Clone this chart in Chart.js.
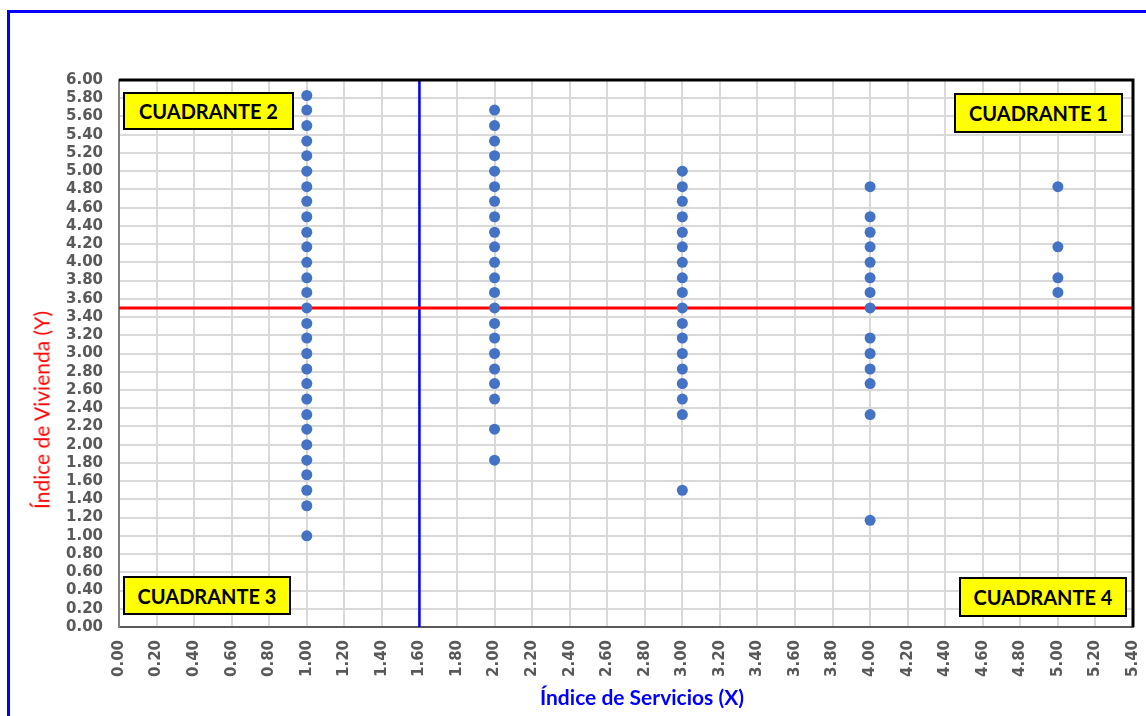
<!DOCTYPE html>
<html lang="es">
<head>
<meta charset="UTF-8">
<title>Cuadrantes</title>
<style>
    body {
        margin: 0;
        overflow: hidden;
        background: #fff;
        font-family: Lato, sans-serif;
    }
    #frame {
        position: absolute;
        left: 7px;
        top: 10px;
        width: 1300px;
        height: 900px;
        border: 3px solid #0000ff;
        box-sizing: border-box;
    }
    #chart {
        position: absolute;
        left: 0;
        top: 0;
    }
    .quad {
        position: absolute;
        background: #ffff00;
        border: 2px solid #000;
        box-sizing: border-box;
        font: bold 20px Lato, sans-serif;
        color: #000;
        display: flex;
        align-items: center;
        justify-content: center;
    }
    .axis-title {
        position: absolute;
        white-space: nowrap;
        font-size: 21px;
        line-height: 1;
    }
    #titleX {
        left: 642px;
        top: 696px;
        transform: translate(-50%, -50%);
        color: #0000ff;
        font-weight: bold;
    }
    #titleY {
        left: 41px;
        top: 410px;
        transform: translate(-50%, -50%) rotate(-90deg);
        color: #ff0000;
    }
</style>
</head>
<body>
<div id="frame"></div>
<canvas id="chart" width="1146" height="716"></canvas>
<div class="quad" style="left:123px; top:92px; width:171px; height:38px;">CUADRANTE 2</div>
<div class="quad" style="left:954px; top:93px; width:169px; height:40px;">CUADRANTE 1</div>
<div class="quad" style="left:123px; top:576px; width:168px; height:39px;">CUADRANTE 3</div>
<div class="quad" style="left:959px; top:577px; width:168px; height:40px;">CUADRANTE 4</div>
<div class="axis-title" id="titleX">Índice de Servicios (X)</div>
<div class="axis-title" id="titleY">Índice de Vivienda (Y)</div>

<script src="https://cdn.jsdelivr.net/npm/chart.js"></script>
<script>
    // índice de servicios (columnas) y valores de vivienda en cada una
    const servicios = [1, 2, 3, 4, 5];
    const vivienda1 = [1.00, 1.33, 1.50, 1.67, 1.83, 2.00, 2.17, 2.33, 2.50, 2.67, 2.83, 3.00, 3.17, 3.33, 3.50,
                       3.67, 3.83, 4.00, 4.17, 4.33, 4.50, 4.67, 4.83, 5.00, 5.17, 5.33, 5.50, 5.67, 5.83];
    const vivienda2 = [1.83, 2.17, 2.50, 2.67, 2.83, 3.00, 3.17, 3.33, 3.50, 3.67, 3.83, 4.00, 4.17, 4.33, 4.50,
                       4.67, 4.83, 5.00, 5.17, 5.33, 5.50, 5.67];
    const vivienda3 = [1.50, 2.33, 2.50, 2.67, 2.83, 3.00, 3.17, 3.33, 3.50, 3.67, 3.83, 4.00, 4.17, 4.33, 4.50,
                       4.67, 4.83, 5.00];
    const vivienda4 = [1.17, 2.33, 2.67, 2.83, 3.00, 3.17, 3.50, 3.67, 3.83, 4.00, 4.17, 4.33, 4.50, 4.83];
    const vivienda5 = [3.67, 3.83, 4.17, 4.83];

    // líneas de corte de los cuadrantes
    const corteX = 1.6;
    const corteY = 3.5;

    const ejeXMin = 0, ejeXMax = 5.4;
    const ejeYMin = 0, ejeYMax = 6;
    const paso = 0.2;

    const columnas = [vivienda1, vivienda2, vivienda3, vivienda4, vivienda5];
    const puntos = [];
    columnas.forEach(function(col, i) {
        col.forEach(function(v) {
            puntos.push({ x: servicios[i], y: v });
        });
    });

    // marco superior y derecho del área de trazado
    const marcoPlugin = {
        id: 'marco',
        afterDraw(chart) {
            const a = chart.chartArea;
            const ctx = chart.ctx;
            ctx.save();
            ctx.strokeStyle = '#000';
            ctx.lineWidth = 3;
            ctx.beginPath();
            ctx.moveTo(a.left, a.top);
            ctx.lineTo(a.right, a.top);
            ctx.lineTo(a.right, a.bottom);
            ctx.stroke();
            ctx.restore();
        }
    };

    const tickFont = { family: 'DejaVu Sans', size: 15, weight: 'bold' };

    new Chart(document.getElementById('chart').getContext('2d'), {
        type: 'scatter',
        data: {
            datasets: [
                {
                    label: 'Vivienda',
                    data: puntos,
                    backgroundColor: '#4472C4',
                    borderWidth: 0,
                    pointRadius: 5.5,
                    order: 1
                },
                {
                    label: 'Corte Y',
                    type: 'line',
                    data: [{ x: ejeXMin, y: corteY }, { x: ejeXMax, y: corteY }],
                    borderColor: '#ff0000',
                    borderWidth: 3,
                    pointRadius: 0,
                    order: 2
                },
                {
                    label: 'Corte X',
                    type: 'line',
                    data: [{ x: corteX, y: ejeYMin }, { x: corteX, y: ejeYMax }],
                    borderColor: '#0000ff',
                    borderWidth: 2.5,
                    pointRadius: 0,
                    order: 2
                }
            ]
        },
        options: {
            responsive: false,
            animation: false,
            layout: { padding: { top: 80, right: 13, left: 10, bottom: 0 } },
            plugins: {
                legend: { display: false },
                tooltip: { enabled: false }
            },
            scales: {
                x: {
                    type: 'linear',
                    min: ejeXMin,
                    max: ejeXMax,
                    afterFit(scale) {
                        scale.height = 89;
                        scale.paddingLeft = 0;
                        scale.paddingRight = 0;
                    },
                    ticks: {
                        stepSize: paso,
                        autoSkip: false,
                        minRotation: 90,
                        maxRotation: 90,
                        padding: 13,
                        color: '#595959',
                        font: tickFont,
                        callback: v => Number(v).toFixed(2)
                    },
                    grid: { color: '#d9d9d9', lineWidth: 2, drawTicks: false },
                    border: { color: '#595959', width: 2 }
                },
                y: {
                    min: ejeYMin,
                    max: ejeYMax,
                    afterFit(scale) {
                        scale.width = 109;
                        scale.paddingTop = 0;
                        scale.paddingBottom = 0;
                    },
                    ticks: {
                        stepSize: paso,
                        autoSkip: false,
                        padding: 16,
                        color: '#595959',
                        font: tickFont,
                        callback: v => Number(v).toFixed(2)
                    },
                    grid: { color: '#d9d9d9', lineWidth: 2, drawTicks: false },
                    border: { color: '#808080', width: 2 }
                }
            }
        },
        plugins: [marcoPlugin]
    });
</script>
</body>
</html>
